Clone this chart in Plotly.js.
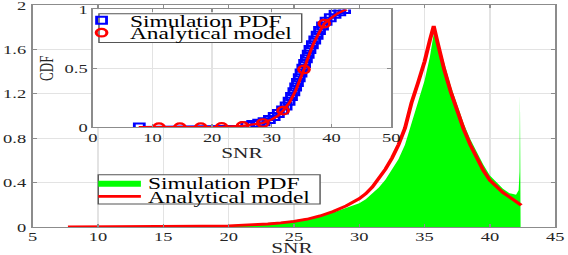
<!DOCTYPE html>
<html><head><meta charset="utf-8">
<script src="https://cdn.plot.ly/plotly-3.0.1.min.js"></script>
<style>
html,body{margin:0;padding:0;background:#fff;overflow:hidden;width:568px;height:255px}
#chart{width:400px;height:255px;transform:scaleX(1.42);transform-origin:0 0}
</style></head><body><div id="chart"></div>
<script>
// Main PDF panel
const pdfSnr = [7.7,10,12,14,16,18,20,21,22,23,24,25,26,27,28,29,30,30.5,31,31.5,32,32.5,33,33.5,34,34.5,35,35.4,35.7,36,36.5,37,37.5,38,38.5,39,39.5,40,40.5,41,41.5,42,42.4];
const pdfModel = [0,0.0005,0.001,0.002,0.004,0.007,0.011,0.015,0.02,0.027,0.037,0.05,0.07,0.1,0.14,0.19,0.255,0.3,0.36,0.44,0.52,0.62,0.74,0.89,1.12,1.3,1.49,1.68,1.81,1.66,1.42,1.22,1.05,0.88,0.74,0.62,0.51,0.42,0.36,0.31,0.27,0.23,0.195];
const histSnr = [15,17,19,20,21,22,23,24,25,26,27,28,29,30,30.5,31,31.5,32,32.5,33,33.5,34,34.5,35,35.4,35.7,36,36.5,37,37.5,38,38.5,39,39.5,40,40.5,41,41.5,42,42.2,42.27,42.3,42.33,42.35];
const histPdf = [0.002,0.006,0.012,0.016,0.02,0.026,0.034,0.045,0.058,0.075,0.098,0.13,0.17,0.215,0.25,0.3,0.355,0.425,0.51,0.61,0.74,0.93,1.11,1.32,1.53,1.74,1.69,1.47,1.27,1.1,0.93,0.79,0.67,0.56,0.465,0.4,0.345,0.305,0.29,0.33,0.5,1.2,0.35,0];
// Inset CDF panel
const cdfSimSnr = [7.8,25.8,26.8,27.8,28.7,29.6,30.4,31.1,31.8,32.4,32.9,33.3,33.7,34.0,34.3,34.6,34.9,35.2,35.5,35.8,36.1,36.4,36.8,37.2,37.6,38.0,38.5,39.1,39.8,40.6,41.4,42.2];
const cdfSim = [0,0.012,0.022,0.032,0.045,0.065,0.09,0.115,0.145,0.18,0.22,0.26,0.30,0.34,0.38,0.42,0.46,0.5,0.54,0.58,0.62,0.66,0.70,0.74,0.78,0.82,0.86,0.90,0.93,0.96,0.98,1.0];
const cdfModelSnr = [7.7,11.1,14.6,18.1,21.6,25.1,27,28.5,30,31,31.9,33,34,35,35.4,36,37,38,38.8,40,41,42,42.6];
const cdfModel = [0,0,0,0,0.002,0.01,0.022,0.035,0.065,0.095,0.14,0.21,0.31,0.43,0.49,0.58,0.71,0.81,0.88,0.93,0.965,0.99,1.0];
const cdfMarkSnr = [11.1,14.6,18.1,21.6,25.1,28.5,31.9,35.4,38.8];
const cdfMark = [0,0,0,0.002,0.01,0.035,0.14,0.49,0.88];
// Ticks
const mainXTicks = [5,10,15,20,25,30,35,40,45];
const mainYTicks = [0,0.4,0.8,1.2,1.6,2];
const mainYLabels = ['0','0.4','0.8','1.2','1.6','2'];
const insetXTicks = [0,10,20,30,40,50];
const insetYTicks = [0,0.5,1];
const insetYLabels = ['0','0.5','1'];
const seriesNames = ['Simulation PDF','Analytical model'];
const xTitle = 'SNR';

const SERIF = 'Liberation Serif, Times New Roman, serif';
const AX = '#8c8c8c', GRID = '#e3e3e3', TXT = '#262626';

function axisStyle(extra){
  return Object.assign({
    showline:true, linecolor:AX, linewidth:1, mirror:'ticks',
    ticks:'inside', ticklen:3, tickcolor:AX, tickwidth:1,
    showgrid:true, gridcolor:GRID, gridwidth:1, zeroline:false,
    ticklabeloverflow:'allow',
    tickfont:{family:SERIF, size:13, color:TXT}
  }, extra);
}

const traces = [
  {x:histSnr, y:histPdf, type:'scatter', mode:'lines', fill:'tozeroy',
   fillcolor:'#00ff00', line:{width:0, color:'#00ff00'}, name:seriesNames[0],
   legend:'legend', xaxis:'x', yaxis:'y'},
  {x:pdfSnr, y:pdfModel, type:'scatter', mode:'lines', line:{color:'#ff0000', width:2.8},
   name:seriesNames[1], legend:'legend2', xaxis:'x', yaxis:'y'},
  {x:cdfSimSnr, y:cdfSim, type:'scatter', mode:'lines', line:{color:'#0000ff', width:2},
   showlegend:false, xaxis:'x2', yaxis:'y2'},
  {x:cdfSimSnr, y:cdfSim, type:'scatter', mode:'markers', name:seriesNames[0],
   marker:{symbol:'square-open', size:7, color:'#0000ff', line:{width:2, color:'#0000ff'}},
   legend:'legend3', xaxis:'x2', yaxis:'y2'},
  {x:cdfModelSnr, y:cdfModel, type:'scatter', mode:'lines', line:{color:'#ff0000', width:2.2},
   showlegend:false, xaxis:'x2', yaxis:'y2'},
  {x:cdfMarkSnr, y:cdfMark, type:'scatter', mode:'markers', name:seriesNames[1],
   marker:{symbol:'circle-open', size:7.5, color:'#ff0000', line:{width:2.2, color:'#ff0000'}},
   legend:'legend4', xaxis:'x2', yaxis:'y2'}
];

const legFont = {family:SERIF, size:16.5, color:'#000'};
function leg(x, y){
  return {x:x, y:y, xanchor:'left', yanchor:'middle', bgcolor:'rgba(0,0,0,0)',
          borderwidth:0, font:legFont};
}

const layout = {
  width:400, height:255,
  margin:{l:23, r:9, t:4, b:28},
  paper_bgcolor:'#ffffff', plot_bgcolor:'#ffffff',
  showlegend:true,
  xaxis: axisStyle({domain:[0,1], range:[5,45], tickvals:mainXTicks, anchor:'y', ticklabelstandoff:-3}),
  yaxis: axisStyle({domain:[0,1], range:[0,2], tickvals:mainYTicks, ticktext:mainYLabels, anchor:'x', ticklabelstandoff:1}),
  xaxis2: axisStyle({domain:[0.115,0.686], range:[0,50], tickvals:insetXTicks, anchor:'y2', ticklabelstandoff:-2,
    title:{text:xTitle, font:{family:SERIF, size:15, color:TXT}, standoff:0}}),
  yaxis2: axisStyle({domain:[0.45,0.98], range:[0,1], tickvals:insetYTicks, ticktext:insetYLabels, anchor:'x2',
    title:{text:'CDF', font:{family:SERIF, size:13, color:TXT}, standoff:4}}),
  legend: leg(0.112, 0.1973),
  legend2: leg(0.112, 0.1359),
  legend3: leg(0.0775, 0.926),
  legend4: leg(0.0775, 0.870),
  annotations:[
    {text:xTitle, xref:'paper', yref:'paper', x:0.497, y:-0.094, xanchor:'center', yanchor:'middle',
     showarrow:false, font:{family:SERIF, size:15, color:TXT}}
  ],
  shapes:[
    {type:'rect', xref:'paper', yref:'paper', x0:0.1255, x1:0.550, y0:0.1031, y1:0.2354,
     fillcolor:'#ffffff', line:{color:'#555555', width:1}, layer:'above'},
    {type:'rect', xref:'paper', yref:'paper', x0:0.1269, x1:0.5149, y0:0.831, y1:0.961,
     fillcolor:'#ffffff', line:{color:'#555555', width:1}, layer:'above'}
  ]
};

Plotly.newPlot('chart', traces, layout, {staticPlot:true, displayModeBar:false});
</script></body></html>
